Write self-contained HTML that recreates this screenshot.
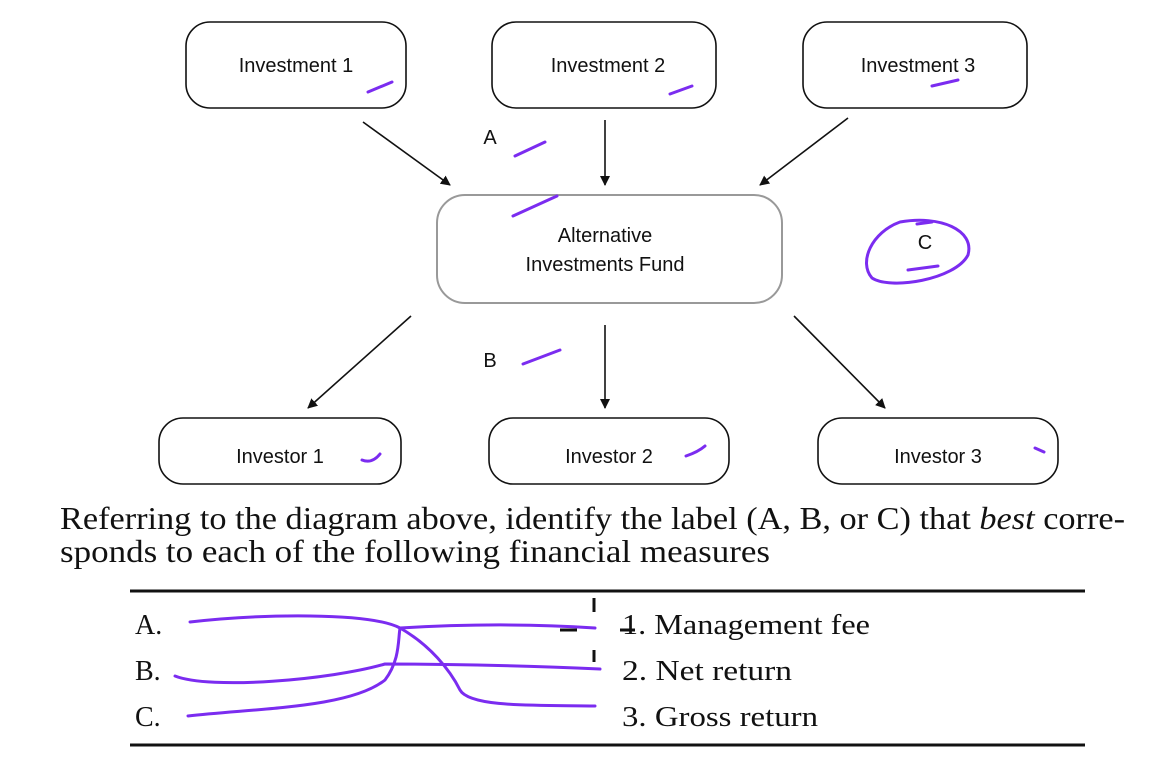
<!DOCTYPE html>
<html><head><style>body{margin:0;background:#fff}svg{display:block}</style></head><body>
<svg width="1176" height="766" xmlns="http://www.w3.org/2000/svg">
<defs><marker id="ah" markerWidth="10" markerHeight="10" refX="9" refY="5" orient="auto" markerUnits="userSpaceOnUse"><path d="M0,0 L10,5 L0,10 z" fill="#111"/></marker></defs>
<g fill="#fff" stroke="#111" stroke-width="1.6">
<rect x="186" y="22" width="220" height="86" rx="24"/>
<rect x="492" y="22" width="224" height="86" rx="24"/>
<rect x="803" y="22" width="224" height="86" rx="24"/>
<rect x="437" y="195" width="345" height="108" rx="28" stroke="#999" stroke-width="2"/>
<rect x="159" y="418" width="242" height="66" rx="24"/>
<rect x="489" y="418" width="240" height="66" rx="24"/>
<rect x="818" y="418" width="240" height="66" rx="24"/>
</g>
<g stroke="#111" stroke-width="1.6" marker-end="url(#ah)">
<line x1="363" y1="122" x2="450" y2="185"/><line x1="605" y1="120" x2="605" y2="185"/><line x1="848" y1="118" x2="760" y2="185"/>
<line x1="411" y1="316" x2="308" y2="408"/><line x1="605" y1="325" x2="605" y2="408"/><line x1="794" y1="316" x2="885" y2="408"/>
</g>
<g font-family="Liberation Sans, sans-serif" font-size="20" fill="#111" text-anchor="middle">
<text x="296" y="72">Investment 1</text><text x="608" y="72">Investment 2</text><text x="918" y="72">Investment 3</text>
<text x="605" y="242">Alternative</text><text x="605" y="271">Investments Fund</text>
<text x="280" y="463">Investor 1</text><text x="609" y="463">Investor 2</text><text x="938" y="463">Investor 3</text>
<text x="490" y="144">A</text><text x="490" y="367">B</text><text x="925" y="249">C</text>
</g>
<g font-family="Liberation Serif, serif" font-size="32" fill="#111">
<text x="60" y="529" textLength="1065" lengthAdjust="spacingAndGlyphs">Referring to the diagram above, identify the label (A, B, or C) that <tspan font-style="italic">best</tspan> corre-</text>
<text x="60" y="562" textLength="710" lengthAdjust="spacingAndGlyphs">sponds to each of the following financial measures</text>
<g font-size="28"><text x="135" y="634">A.</text><text x="135" y="680">B.</text><text x="135" y="726">C.</text>
<text x="622" y="634" textLength="248" lengthAdjust="spacingAndGlyphs">1. Management fee</text><text x="622" y="680" textLength="170" lengthAdjust="spacingAndGlyphs">2. Net return</text><text x="622" y="726" textLength="196" lengthAdjust="spacingAndGlyphs">3. Gross return</text></g>
</g>
<line x1="130" y1="591" x2="1085" y2="591" stroke="#111" stroke-width="3"/>
<line x1="130" y1="745" x2="1085" y2="745" stroke="#111" stroke-width="3"/>
<g fill="none" stroke="#7b2cf0" stroke-width="3" stroke-linecap="round">
<path d="M368,92 L392,82"/><path d="M670,94 L692,86"/><path d="M932,86 L958,80"/>
<path d="M515,156 L545,142"/><path d="M513,216 L557,196"/><path d="M523,364 L560,350"/>
<path d="M362,460 Q372,464 380,454"/><path d="M686,456 Q698,452 705,446"/><path d="M1035,448 L1044,452"/>
<path d="M900,222 C940,215 975,230 968,255 C955,280 890,290 872,278 C858,262 872,232 900,222"/>
<path d="M908,270 L938,266"/><path d="M917,224 L932,222"/>
<path d="M190,622 C260,614 370,612 400,628 C430,645 450,670 460,690 C470,708 540,705 595,706"/>
<path d="M400,628 C450,625 520,623 595,628"/>
<path d="M175,676 C210,690 330,680 385,664 C450,664 530,666 600,669"/>
<path d="M188,716 C260,708 350,708 385,680 C400,660 398,640 400,628"/>
</g>
<g stroke="#111" stroke-width="3"><line x1="594" y1="598" x2="594" y2="612"/><line x1="594" y1="650" x2="594" y2="662"/><line x1="560" y1="630" x2="577" y2="630"/><line x1="620" y1="630" x2="635" y2="630"/></g>
</svg>
</body></html>
